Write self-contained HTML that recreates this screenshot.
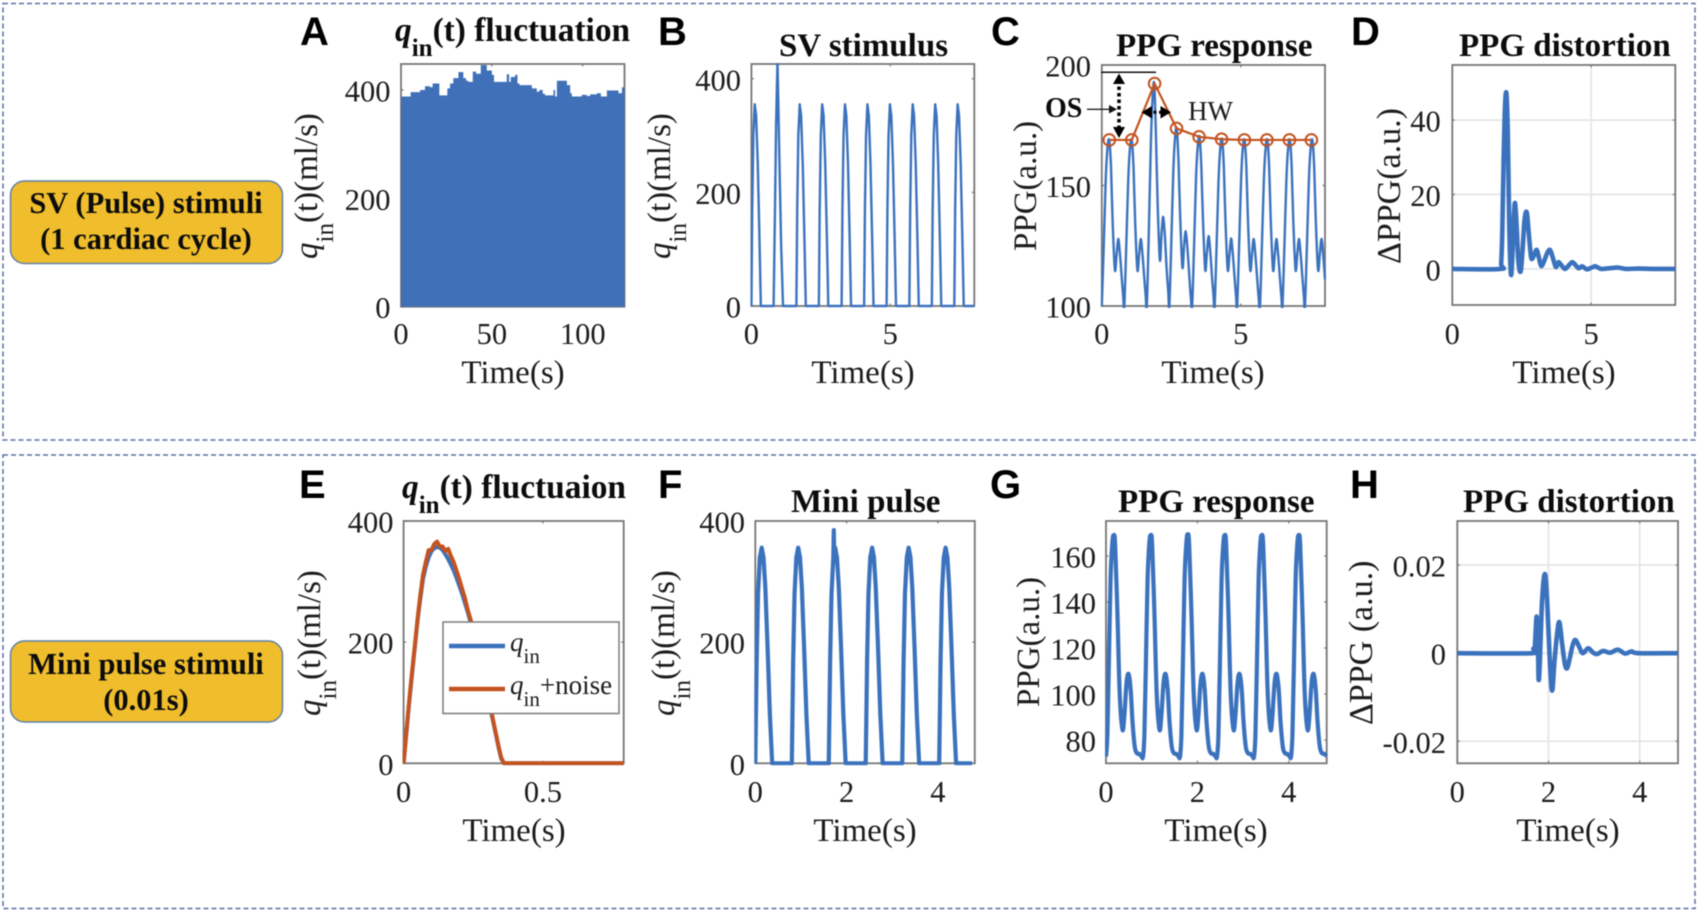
<!DOCTYPE html>
<html lang="en">
<head>
<meta charset="utf-8">
<title>PPG stimulus and response panels</title>
<style>
html,body{margin:0;padding:0;background:#fff;width:1698px;height:912px;overflow:hidden}
svg{display:block;filter:blur(0.5px)}
text{font-family:"Liberation Serif",serif;fill:#1c1c1c}
.ttl{font-size:33px;font-weight:bold;fill:#0c0c0c}
.lbl{font-size:33px}
.let{font-family:"Liberation Sans",sans-serif;font-size:40px;font-weight:bold;fill:#000}
.grp{font-size:30.5px;font-weight:bold;text-anchor:middle;fill:#0c0c0c}
.tick{font-size:30.5px}
.leg{font-size:27px}
</style>
</head>
<body>
<svg id="fig" xmlns="http://www.w3.org/2000/svg" width="1698" height="912" viewBox="0 0 1698 912">
  <rect x="0" y="0" width="1698" height="912" fill="#fff"/>
  <rect x="3" y="3.5" width="1692" height="436.5" fill="none" stroke="#5d70a8" stroke-width="1.5" stroke-dasharray="5 3"/>
  <rect x="3" y="455" width="1692" height="453.5" fill="none" stroke="#5d70a8" stroke-width="1.5" stroke-dasharray="5 3"/>

  <rect x="10.5" y="181" width="272" height="82.5" rx="14" fill="#f0be2c" stroke="#5f80a8" stroke-width="1.5"/>
  <text class="grp" x="146" y="213">SV (Pulse) stimuli</text>
  <text class="grp" x="146" y="249">(1 cardiac cycle)</text>
  <rect x="10.5" y="641" width="272" height="81" rx="14" fill="#f0be2c" stroke="#5f80a8" stroke-width="1.5"/>
  <text class="grp" x="146" y="674">Mini pulse stimuli</text>
  <text class="grp" x="146" y="710">(0.01s)</text>

  <g id="marks"></g>

  <text class="let" x="300" y="45">A</text>
  <text class="let" x="658" y="45">B</text>
  <text class="let" x="991" y="45">C</text>
  <text class="let" x="1351" y="45">D</text>
  <text class="let" x="299" y="498">E</text>
  <text class="let" x="658" y="498">F</text>
  <text class="let" x="990" y="498">G</text>
  <text class="let" x="1350" y="498">H</text>

  <text class="ttl" x="395" y="41" style="font-size:33.4px"><tspan font-style="italic">q</tspan><tspan font-size="25" dy="15">in</tspan><tspan dy="-15">(t) fluctuation</tspan></text>
  <text class="ttl" x="779" y="56">SV stimulus</text>
  <text class="ttl" x="1116" y="56">PPG response</text>
  <text class="ttl" x="1459" y="56">PPG distortion</text>
  <text class="ttl" x="402" y="498" style="font-size:33.4px"><tspan font-style="italic">q</tspan><tspan font-size="25" dy="15">in</tspan><tspan dy="-15">(t) fluctuaion</tspan></text>
  <text class="ttl" x="791" y="512">Mini pulse</text>
  <text class="ttl" x="1118" y="512">PPG response</text>
  <text class="ttl" x="1463" y="512">PPG distortion</text>

  <text class="lbl" transform="translate(317,259) rotate(-90)"><tspan font-style="italic">q</tspan><tspan font-size="25" dy="16">in</tspan><tspan dy="-16">(t)(ml/s)</tspan></text>
  <text class="lbl" transform="translate(670,259) rotate(-90)"><tspan font-style="italic">q</tspan><tspan font-size="25" dy="16">in</tspan><tspan dy="-16">(t)(ml/s)</tspan></text>
  <text class="lbl" transform="translate(1036,251) rotate(-90)">PPG(a.u.)</text>
  <text class="lbl" transform="translate(1400,264) rotate(-90)" style="font-size:34px">ΔPPG(a.u.)</text>
  <text class="lbl" transform="translate(320,716) rotate(-90)"><tspan font-style="italic">q</tspan><tspan font-size="25" dy="16">in</tspan><tspan dy="-16">(t)(ml/s)</tspan></text>
  <text class="lbl" transform="translate(674,716) rotate(-90)"><tspan font-style="italic">q</tspan><tspan font-size="25" dy="16">in</tspan><tspan dy="-16">(t)(ml/s)</tspan></text>
  <text class="lbl" transform="translate(1039,707) rotate(-90)">PPG(a.u.)</text>
  <text class="lbl" transform="translate(1372,725) rotate(-90)" style="font-size:34px">ΔPPG (a.u.)</text>

  <text class="lbl" x="513" y="383" text-anchor="middle">Time(s)</text>
  <text class="lbl" x="863" y="383" text-anchor="middle">Time(s)</text>
  <text class="lbl" x="1213" y="383" text-anchor="middle">Time(s)</text>
  <text class="lbl" x="1564" y="383" text-anchor="middle">Time(s)</text>
  <text class="lbl" x="514" y="841" text-anchor="middle">Time(s)</text>
  <text class="lbl" x="865" y="841" text-anchor="middle">Time(s)</text>
  <text class="lbl" x="1216" y="841" text-anchor="middle">Time(s)</text>
  <text class="lbl" x="1568" y="841" text-anchor="middle">Time(s)</text>

  <g>
    <line x1="1101" y1="72.3" x2="1156" y2="72.3" stroke="#111" stroke-width="1.5"/>
    <line x1="1119" y1="80" x2="1119" y2="132" stroke="#000" stroke-width="3.5" stroke-dasharray="3.5 3"/>
    <polygon points="1119,73.5 1113,84 1125,84" fill="#000"/>
    <polygon points="1119,138 1113,127 1125,127" fill="#000"/>
    <line x1="1087" y1="109.3" x2="1111" y2="109.3" stroke="#222" stroke-width="1.3"/>
    <polygon points="1117,109.3 1109,105 1109,113.5" fill="#111"/>
    <text x="1045" y="117" font-size="28" font-weight="bold" style="fill:#0c0c0c">OS</text>
    <line x1="1148" y1="112.3" x2="1165" y2="112.3" stroke="#000" stroke-width="3" stroke-dasharray="3 2.5"/>
    <polygon points="1141.5,112.3 1152,106 1152,118.5" fill="#000"/>
    <polygon points="1171,112.3 1160.5,106 1160.5,118.5" fill="#000"/>
    <text x="1188" y="120" font-size="27">HW</text>
  </g>

  <g>
    <rect x="443" y="622" width="176" height="91.5" fill="#fff" stroke="#7a7a7a" stroke-width="1.5"/>
    <line x1="449" y1="646" x2="505" y2="646" stroke="#3b72bd" stroke-width="4.5"/>
    <text class="leg" x="510" y="651"><tspan font-style="italic">q</tspan><tspan font-size="21" dy="12">in</tspan></text>
    <line x1="449" y1="689" x2="505" y2="689" stroke="#c4531f" stroke-width="4.5"/>
    <text class="leg" x="510" y="694"><tspan font-style="italic">q</tspan><tspan font-size="21" dy="12">in</tspan><tspan dy="-12">+noise</tspan></text>
  </g>
</svg>

<script>
// Panel A: stepped inflow, step starts and levels
const aStepTimes = [0,5.3,10.5,13.2,16,17.4,21.1,25.5,27,28.8,31.6,34.3,35.8,37.1,39.5,41.3,43.9,47.2,50,51.2,58.2,59.5,60.4,62.8,64.1,65.2,72,74.7,76.2,78,79.3,83.9,84.8,85.8,91.3,93.1,94,99.5,102.3,104.1,107.8,110,113.3,114.8,119.7,121.6];
const aStepFlow = [388,396,400,407,405,412,390,403,412,422,433,422,417,415,434,430,446,436,428,415,429,415,424,428,412,409,403,397,400,393,390,400,388,417,409,394,388,391,389,392,394,388,399,399,394,405];
const aXTicks = [0,50,100];
const aYTicks = [0,200,400];

// Panel B: SV stimulus
const bTimes = [0,.03,.07,.12,.17,.23,.29,.34,.8,.85,.89,.94,.98,1.02,1.07,1.14,1.62,1.65,1.69,1.74,1.79,1.85,1.91,1.96,2.43,2.46,2.5,2.55,2.6,2.66,2.72,2.77,3.25,3.28,3.32,3.37,3.42,3.48,3.54,3.59,4.06,4.09,4.13,4.18,4.23,4.29,4.35,4.4,4.87,4.9,4.94,4.99,5.04,5.1,5.16,5.21,5.69,5.72,5.76,5.81,5.86,5.92,5.98,6.03,6.5,6.53,6.57,6.62,6.67,6.73,6.79,6.84,7.31,7.34,7.38,7.43,7.48,7.54,7.6,7.65,8.03];
const bFlow = [0,170,300,355,335,250,120,0,0,170,320,432,330,230,110,0,0,170,300,355,335,250,120,0,0,170,300,355,335,250,120,0,0,170,300,355,335,250,120,0,0,170,300,355,335,250,120,0,0,170,300,355,335,250,120,0,0,170,300,355,335,250,120,0,0,170,300,355,335,250,120,0,0,170,300,355,335,250,120,0,0];
const bXTicks = [0,5];
const bYTicks = [0,200,400];

// Panel C: PPG response and peak envelope
const cTimes = [0,.07,.14,.2,.265,.33,.39,.47,.53,.59,.65,.71,.77,.81,.88,.95,1.01,1.075,1.14,1.2,1.28,1.34,1.4,1.46,1.52,1.58,1.62,1.69,1.76,1.82,1.885,1.95,2.01,2.09,2.15,2.21,2.27,2.33,2.39,2.43,2.5,2.57,2.63,2.695,2.76,2.82,2.9,2.96,3.02,3.08,3.14,3.2,3.25,3.32,3.39,3.45,3.515,3.58,3.64,3.72,3.78,3.84,3.9,3.96,4.02,4.06,4.13,4.2,4.26,4.325,4.39,4.45,4.53,4.59,4.65,4.71,4.77,4.83,4.87,4.94,5.01,5.07,5.135,5.2,5.26,5.34,5.4,5.46,5.52,5.58,5.64,5.69,5.76,5.83,5.89,5.955,6.02,6.08,6.16,6.22,6.28,6.34,6.4,6.46,6.5,6.57,6.64,6.7,6.765,6.83,6.89,6.97,7.03,7.09,7.15,7.21,7.27,7.31,7.38,7.45,7.51,7.575,7.64,7.7,7.78,7.84,7.9,7.96,8.03];
const cPPG = [100,125,152,165,168.9,158,135,115,121,127.8,122,113,104,100,125,152,165,168.9,158,135,115,121,127.8,122,113,104,100,130,165,185,192.3,170,142,119,130,137,129,116,106,100,126,155,169,173.7,160,137,116,125,131,124,114,104,100,125,153,166,170.2,158,136,115,122,129,123,113,104,100,125,152,165,169.2,158,135,115,121,128,122,113,104,100,125,152,165,168.9,158,135,115,121,127.8,122,113,104,100,125,152,165,168.9,158,135,115,121,127.8,122,113,104,100,125,152,165,168.9,158,135,115,121,127.8,122,113,104,100,125,152,165,168.9,158,135,115,121,127.8,122,111];
const cPeakTimes = [.27,1.08,1.9,2.69,3.5,4.31,5.13,5.94,6.75,7.54];
const cPeakValues = [168.9,168.9,192.3,173.7,170.2,169.2,168.9,168.9,168.9,168.9];
const cXTicks = [0,5];
const cYTicks = [100,150,200];

// Panel D: PPG distortion
const dTimes = [0,1.72,1.76,1.8,1.85,1.9,1.95,2,2.05,2.11,2.16,2.21,2.26,2.32,2.38,2.46,2.53,2.6,2.68,2.76,2.83,2.88,2.96,3.04,3.12,3.2,3.3,3.42,3.52,3.62,3.72,3.78,3.83,3.95,4.06,4.2,4.32,4.44,4.54,4.61,4.68,4.84,5,5.14,5.26,5.38,5.68,5.96,6.28,6.7,7.24,8.03];
const dDelta = [0,0,1.5,10,30,44,47,36,12,-1.3,3,13,17.7,11,2,-.7,5,13,15.2,9,3.5,2.7,4,5.1,3,.8,2,4.3,5.1,3,.6,1,1.8,.8,0,1,1.8,1,.2,.4,.7,-.1,.3,.7,.3,0,.2,.35,0,.1,0,0];
const dXTicks = [0,5];
const dYTicks = [0,20,40];

// Panel E: single pulse with and without noise
const eTimes = [0,.01,.02,.03,.04,.05,.06,.07,.08,.09,.1,.11,.12,.13,.14,.15,.16,.17,.18,.19,.2,.21,.22,.23,.24,.25,.26,.27,.28,.29,.3,.31,.32,.33,.34,.35,.36,.79];
const eQin = [0,50,100,145,190,235,272,305,325,340,350,355,357,356,352,345,337,328,318,306,293,280,265,250,233,215,197,178,158,137,115,93,72,50,28,8,0,0];
const eNoise = [0,52,103,150,193,238,278,312,333,352,352,362,366,358,358,350,354,342,332,318,304,288,273,254,238,222,202,182,162,140,118,96,74,52,30,10,0,0];
const eXTicks = [0,.5];
const eYTicks = [0,200,400];

// Panel F: mini pulse train
const fTimes = [0,.03,.06,.1,.14,.18,.22,.27,.32,.37,.8,.83,.86,.9,.94,.98,1.02,1.07,1.12,1.17,1.61,1.64,1.67,1.71,1.72,1.73,1.75,1.79,1.83,1.88,1.93,1.98,2.42,2.45,2.48,2.52,2.56,2.6,2.64,2.69,2.74,2.79,3.22,3.25,3.28,3.32,3.36,3.4,3.44,3.49,3.54,3.59,4.03,4.06,4.09,4.13,4.17,4.21,4.25,4.3,4.35,4.4,4.75];
const fFlow = [0,170,280,340,356,340,290,190,80,0,0,170,280,340,356,340,290,190,80,0,0,170,280,340,385,345,356,340,290,190,80,0,0,170,280,340,356,340,290,190,80,0,0,170,280,340,356,340,290,190,80,0,0,170,280,340,356,340,290,190,80,0,0];
const fXTicks = [0,2,4];
const fYTicks = [0,200,400];

// Panel G: PPG response to mini pulses
const gTimes = [0,.03,.06,.1,.14,.17,.2,.25,.3,.36,.4,.45,.495,.54,.58,.63,.68,.73,.78,.81,.84,.87,.91,.95,.98,1.01,1.06,1.11,1.17,1.21,1.26,1.305,1.35,1.39,1.44,1.49,1.54,1.59,1.62,1.65,1.68,1.72,1.76,1.79,1.82,1.87,1.92,1.98,2.02,2.07,2.115,2.16,2.2,2.25,2.3,2.35,2.4,2.43,2.46,2.49,2.53,2.57,2.6,2.63,2.68,2.73,2.79,2.83,2.88,2.925,2.97,3.01,3.06,3.11,3.16,3.21,3.24,3.27,3.3,3.34,3.38,3.41,3.44,3.49,3.54,3.6,3.64,3.69,3.735,3.78,3.82,3.87,3.92,3.97,4.02,4.05,4.08,4.11,4.15,4.19,4.22,4.25,4.3,4.35,4.41,4.45,4.5,4.545,4.59,4.63,4.68,4.73,4.78,4.83];
const gPPG = [72.8,82,110,150,166,169,165,135,100,84.6,90,105,108.7,102,88,77,74.2,74,72.8,72.8,82,110,150,166,169,165,135,100,84.6,90,105,108.7,102,88,77,74.2,74,72.8,72.8,82,110,150,166,169.4,165,135,100,84.6,90,105,108.7,102,88,77,74.2,74,72.8,72.8,82,110,150,166,169,165,135,100,84.6,90,105,108.7,102,88,77,74.2,74,72.8,72.8,82,110,150,166,169,165,135,100,84.6,90,105,108.7,102,88,77,74.2,74,72.8,72.8,82,110,150,166,169,165,135,100,84.6,90,105,108.7,102,88,77,74.2,74,73];
const gXTicks = [0,2,4];
const gYTicks = [80,100,120,140,160];

// Panel H: PPG distortion for mini pulses
const hTimes = [0,1.64,1.667,1.7,1.74,1.77,1.784,1.81,1.86,1.92,1.97,2.03,2.08,2.13,2.19,2.24,2.3,2.36,2.41,2.47,2.53,2.59,2.67,2.75,2.87,2.97,3.06,3.2,3.35,3.52,3.68,3.82,3.97,4.84];
const hDelta = [0,0,.001,.0015,.0083,.001,-.006,-.002,.012,.018,.012,-.002,-.0085,-.002,.0045,.007,.002,-.0025,-.0034,-.001,.0018,.003,.0015,0,.0011,.0002,-.0002,.0005,.0001,.0008,-.0001,.0004,0,0];
const hXTicks = [0,2,4];
const hYTicks = [-.02,0,.02];

const NS = 'http://www.w3.org/2000/svg';
const root = document.getElementById('marks');
const AXIS = '#767676';
const BLUE = '#3b72bd';
const ORANGE = '#c4531f';

const layout = {
  a:{l:401,r:624.5,t:64,b:306.7,x0:0,x1:123,y0:0,y1:448,labelRight:390.5,labelBase:344},
  b:{l:751.4,r:974.3,t:64,b:306,x0:0,x1:8.03,y0:0,y1:426,labelRight:741,labelBase:344},
  c:{l:1101.8,r:1325,t:65,b:306,x0:0,x1:8.03,y0:100,y1:200,labelRight:1091,labelBase:344},
  d:{l:1452.3,r:1675.3,t:65,b:305,x0:0,x1:8.03,y0:-9.7,y1:54.8,labelRight:1440.7,labelBase:344},
  e:{l:403.6,r:623.7,t:521,b:763.3,x0:0,x1:.79,y0:0,y1:400,labelRight:393.5,labelBase:802},
  f:{l:755.3,r:974.8,t:521,b:763.3,x0:0,x1:4.81,y0:0,y1:400,labelRight:745,labelBase:802},
  g:{l:1106,r:1326.7,t:521,b:763.3,x0:0,x1:4.83,y0:69.9,y1:175.2,labelRight:1096,labelBase:802},
  h:{l:1457.3,r:1678,t:521,b:763.3,x0:0,x1:4.84,y0:-.025,y1:.03,labelRight:1446,labelBase:802}
};

function xScale(p, v){ return p.l + (v - p.x0) / (p.x1 - p.x0) * (p.r - p.l); }
function yScale(p, v){ return p.b - (v - p.y0) / (p.y1 - p.y0) * (p.b - p.t); }

function tickText(v){ return String(v); }

function drawGrid(p, xs, ys){
  xs.forEach(function(v){
    if (v === p.x0) return;
    const el = document.createElementNS(NS, 'line');
    
    
    el.setAttribute('x1', xScale(p, v)); el.setAttribute('x2', xScale(p, v));
    el.setAttribute('y1', p.t); el.setAttribute('y2', p.b);
    el.setAttribute('stroke', '#e2e2e2'); el.setAttribute('stroke-width', '1.5');
    root.appendChild(el);
  });
  ys.forEach(function(v){
    const el = document.createElementNS(NS, 'line');
    
    
    el.setAttribute('x1', p.l); el.setAttribute('x2', p.r);
    el.setAttribute('y1', yScale(p, v)); el.setAttribute('y2', yScale(p, v));
    el.setAttribute('stroke', '#e2e2e2'); el.setAttribute('stroke-width', '1.5');
    root.appendChild(el);
  });
}

function drawAxes(p, xs, ys){
  const box = document.createElementNS(NS, 'rect');
  
  
  box.setAttribute('x', p.l); box.setAttribute('y', p.t);
  box.setAttribute('width', p.r - p.l); box.setAttribute('height', p.b - p.t);
  box.setAttribute('fill', 'none'); box.setAttribute('stroke', AXIS); box.setAttribute('stroke-width', '1.8');
  root.appendChild(box);
  xs.forEach(function(v){
    const px = xScale(p, v);
    const mark = document.createElementNS(NS, 'path');
    
    
    mark.setAttribute('d', 'M' + px + ' ' + p.b + 'v-2.5M' + px + ' ' + p.t + 'v2.5');
    mark.setAttribute('stroke', AXIS); mark.setAttribute('stroke-width', '1.2');
    root.appendChild(mark);
    const label = document.createElementNS(NS, 'text');
    
    
    label.setAttribute('class', 'tick');
    label.setAttribute('x', px); label.setAttribute('y', p.labelBase);
    label.setAttribute('text-anchor', 'middle');
    label.textContent = tickText(v);
    root.appendChild(label);
  });
  ys.forEach(function(v){
    const py = yScale(p, v);
    const mark = document.createElementNS(NS, 'path');
    
    
    mark.setAttribute('d', 'M' + p.l + ' ' + py + 'h2.5M' + p.r + ' ' + py + 'h-2.5');
    mark.setAttribute('stroke', AXIS); mark.setAttribute('stroke-width', '1.2');
    root.appendChild(mark);
    const label = document.createElementNS(NS, 'text');
    
    
    label.setAttribute('class', 'tick');
    label.setAttribute('x', p.labelRight); label.setAttribute('y', py + 11.5);
    label.setAttribute('text-anchor', 'end');
    label.textContent = tickText(v);
    root.appendChild(label);
  });
}

function polyPath(p, ts, vs){
  return ts.map(function(t, i){
    return (i ? 'L' : 'M') + xScale(p, t).toFixed(2) + ' ' + yScale(p, vs[i]).toFixed(2);
  }).join('');
}

function splinePath(p, ts, vs){
  const X = ts.map(function(t){ return xScale(p, t); });
  const Y = vs.map(function(v){ return yScale(p, v); });
  let d = 'M' + X[0].toFixed(2) + ' ' + Y[0].toFixed(2);
  for (let i = 0; i < X.length - 1; i++){
    const a = Math.max(i - 1, 0), b = Math.min(i + 2, X.length - 1);
    d += 'C' + (X[i] + (X[i + 1] - X[a]) / 6).toFixed(2) + ' ' + (Y[i] + (Y[i + 1] - Y[a]) / 6).toFixed(2) + ' ' +
         (X[i + 1] - (X[b] - X[i]) / 6).toFixed(2) + ' ' + (Y[i + 1] - (Y[b] - Y[i]) / 6).toFixed(2) + ' ' +
         X[i + 1].toFixed(2) + ' ' + Y[i + 1].toFixed(2);
  }
  return d;
}

let clipCount = 0;
function clipFor(p){
  const id = 'clip' + (clipCount++);
  const cp = document.createElementNS(NS, 'clipPath');
  cp.setAttribute('id', id);
  const r = document.createElementNS(NS, 'rect');
  r.setAttribute('x', p.l - 1); r.setAttribute('y', p.t - 1);
  r.setAttribute('width', p.r - p.l + 2); r.setAttribute('height', p.b - p.t + 3);
  cp.appendChild(r);
  root.appendChild(cp);
  return 'url(#' + id + ')';
}

function drawSeries(p, d, color, width, name){
  const el = document.createElementNS(NS, 'path');
  
  
  el.setAttribute('d', d);
  el.setAttribute('fill', 'none');
  el.setAttribute('stroke', color);
  el.setAttribute('stroke-width', width);
  el.setAttribute('stroke-linejoin', 'round');
  el.setAttribute('clip-path', clipFor(p));
  root.appendChild(el);
  return el;
}

function drawStepArea(p, ts, vs){
  let d = 'M' + xScale(p, ts[0]) + ' ' + yScale(p, 0);
  ts.forEach(function(t, i){
    const next = i + 1 < ts.length ? ts[i + 1] : p.x1;
    d += 'L' + xScale(p, t).toFixed(2) + ' ' + yScale(p, vs[i]).toFixed(2);
    d += 'L' + xScale(p, next).toFixed(2) + ' ' + yScale(p, vs[i]).toFixed(2);
  });
  d += 'L' + xScale(p, p.x1) + ' ' + yScale(p, 0) + 'Z';
  const el = document.createElementNS(NS, 'path');
  
  
  el.setAttribute('d', d);
  el.setAttribute('fill', '#4070b8');
  root.appendChild(el);
}

function drawPeakMarkers(p, ts, vs){
  ts.forEach(function(t, i){
    const el = document.createElementNS(NS, 'circle');
    
    
    el.setAttribute('cx', xScale(p, t));
    el.setAttribute('cy', yScale(p, vs[i]));
    el.setAttribute('r', '5.8');
    el.setAttribute('fill', 'none');
    el.setAttribute('stroke', ORANGE);
    el.setAttribute('stroke-width', '2');
    root.appendChild(el);
  });
}

// A
drawAxes(layout.a, aXTicks, aYTicks);
drawStepArea(layout.a, aStepTimes, aStepFlow);
// B
drawAxes(layout.b, bXTicks, bYTicks);
drawSeries(layout.b, polyPath(layout.b, bTimes, bFlow), BLUE, 2.4, 'sv-stimulus-line');
// C
drawAxes(layout.c, cXTicks, cYTicks);
drawSeries(layout.c, splinePath(layout.c, cTimes, cPPG), BLUE, 2.4, 'ppg-response-line');
drawSeries(layout.c, polyPath(layout.c, cPeakTimes, cPeakValues), ORANGE, 2.2, 'peak-envelope-line');
drawPeakMarkers(layout.c, cPeakTimes, cPeakValues);
// D
drawGrid(layout.d, dXTicks, dYTicks);
drawAxes(layout.d, dXTicks, dYTicks);
drawSeries(layout.d, splinePath(layout.d, dTimes, dDelta), BLUE, 4.6, 'ppg-distortion-line');
// E
drawAxes(layout.e, eXTicks, eYTicks);
drawSeries(layout.e, polyPath(layout.e, eTimes, eQin), BLUE, 4, 'qin-line');
drawSeries(layout.e, polyPath(layout.e, eTimes, eNoise), ORANGE, 4, 'qin-noise-line');
// F
drawAxes(layout.f, fXTicks, fYTicks);
drawSeries(layout.f, polyPath(layout.f, fTimes, fFlow), BLUE, 4.2, 'mini-pulse-line');
// G
drawAxes(layout.g, gXTicks, gYTicks);
drawSeries(layout.g, splinePath(layout.g, gTimes, gPPG), BLUE, 4.2, 'ppg-response-line');
// H
drawGrid(layout.h, hXTicks, hYTicks);
drawAxes(layout.h, hXTicks, hYTicks);
drawSeries(layout.h, splinePath(layout.h, hTimes, hDelta), BLUE, 4.6, 'ppg-distortion-line');
</script>
</body>
</html>
